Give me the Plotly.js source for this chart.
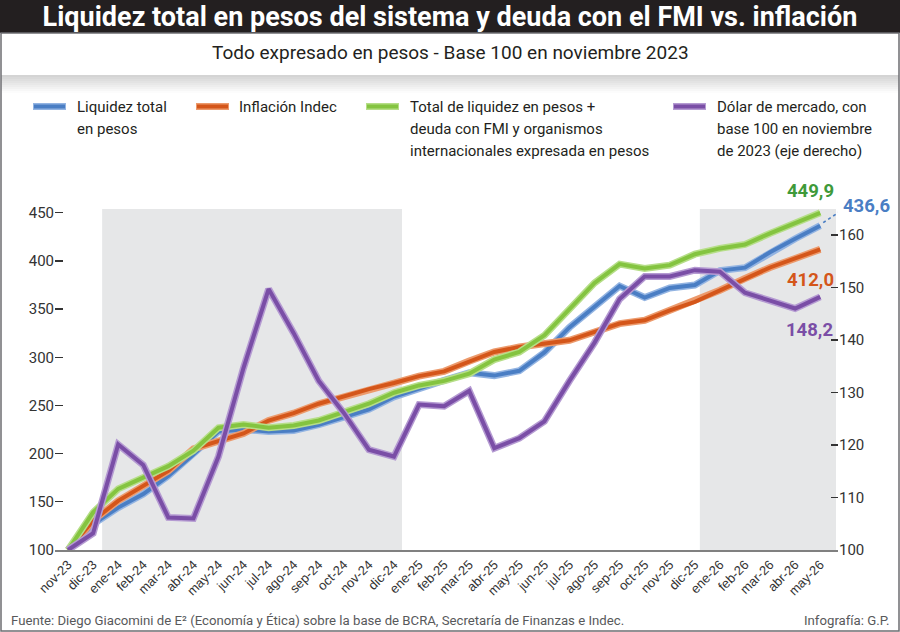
<!DOCTYPE html>
<html>
<head>
<meta charset="utf-8">
<script src="https://cdn.plot.ly/plotly-3.0.1.min.js"></script>
<style>
  html, body { margin: 0; padding: 0; background: #fff; }
  #chart { width: 900px; height: 632px; }
</style>
</head>
<body>
<div id="chart"></div>
<script>
// Months, Nov-2023 to May-2026
const months = ['nov-23','dic-23','ene-24','feb-24','mar-24','abr-24','may-24','jun-24','jul-24','ago-24','sep-24','oct-24','nov-24','dic-24',
  'ene-25','feb-25','mar-25','abr-25','may-25','jun-25','jul-25','ago-25','sep-25','oct-25','nov-25','dic-25',
  'ene-26','feb-26','mar-26','abr-26','may-26'];

// Liquidez total en pesos (base 100 = nov-23)
const liquidez = [100, 127, 144, 158, 177, 199, 223, 225, 223, 224, 230, 238, 246, 259, 268, 276, 284, 281, 286, 305,
  331, 352, 374, 362, 372, 375, 390, 393, 409, 423, 436.6];

// Inflación Indec (base 100 = nov-23)
const inflacion = [100, 130.5, 151, 167, 182, 205, 213, 221, 234.4, 242, 251.8, 259.5, 267, 273.3, 280.5, 285.4, 296, 305.5, 310.7, 314.2,
  317.6, 326.3, 335, 338.4, 348.8, 357.5, 369.6, 381.8, 393.2, 402.6, 412.0];

// Liquidez en pesos + deuda con FMI y organismos internacionales
const liquidezDeuda = [100, 139, 163.4, 175, 187, 203, 226.9, 230.3, 226.9, 229.2, 234.4, 243.1, 251.8, 263.2, 270.8, 275.5, 283, 297.6, 305.5, 322.8,
  350.6, 377.2, 396.7, 392.2, 395.6, 407, 413, 417.1, 428.6, 439, 449.9];

// Dólar de mercado (eje derecho, base 100 = nov-23)
const dolar = [100, 103.2, 120.1, 116.2, 106.2, 106.0, 117.8, 134.7, 149.7, 141.3, 132.2, 126.1, 119.1, 117.8, 127.7, 127.4, 130.3, 119.4, 121.3, 124.5,
  132.2, 139.5, 147.8, 152.1, 152.1, 153.3, 153.0, 149.0, 147.5, 146.0, 148.2];

// Shaded periods (category index positions)
const shadeStart = [1.36, 25.2];
const shadeEnd = [13.32, 30.63];

const leftTicks = [100, 150, 200, 250, 300, 350, 400, 450];
const rightTicks = [100, 110, 120, 130, 140, 150, 160];

const NARROW = 'Roboto, "Liberation Sans", sans-serif';
const SANS = '"Liberation Sans", Arial, sans-serif';
const INK = '#231f20';

const W = 900, H = 632;
const M = { l: 55, r: 62, t: 209, b: 82 };
const PW = W - M.l - M.r, PH = H - M.t - M.b;
const fx = x => (x - M.l) / PW;          // page pixel -> paper x
const fy = y => (H - M.b - y) / PH;      // page pixel -> paper y

const series = [
  { name: 'Liquidez total<br>en pesos', y: liquidez, core: '#4a7ec4', edge: '#93b4e2', axis: 'y' },
  { name: 'Inflación Indec', y: inflacion, core: '#d4561a', edge: '#ec9a6c', axis: 'y' },
  { name: 'Total de liquidez en pesos +<br>deuda con FMI y organismos<br>internacionales expresada en pesos', y: liquidezDeuda, core: '#84c440', edge: '#b6de88', axis: 'y' },
  { name: 'Dólar de mercado, con<br>base 100 en noviembre<br>de 2023 (eje derecho)', y: dolar, core: '#7a4ea6', edge: '#b59bd2', axis: 'y2' }
];

const traces = [];
series.forEach(s => {
  traces.push({ x: months, y: s.y, yaxis: s.axis, type: 'scatter', mode: 'lines',
    line: { color: s.edge, width: 7 }, hoverinfo: 'skip', showlegend: false });
  traces.push({ x: months, y: s.y, yaxis: s.axis, type: 'scatter', mode: 'lines',
    line: { color: s.core, width: 4 }, name: s.name, showlegend: false });
});

const shapes = [];
// title bar
shapes.push({ type: 'rect', xref: 'paper', yref: 'paper', x0: fx(0), x1: fx(W), y0: fy(0), y1: fy(33),
  fillcolor: INK, line: { width: 0 }, layer: 'below' });
// soft shadow under the subtitle band
for (let i = 0; i < 9; i++) {
  const g = Math.round(212 + i * 5);
  shapes.push({ type: 'rect', xref: 'paper', yref: 'paper', x0: fx(1), x1: fx(899), y0: fy(75 + i * 2), y1: fy(77 + i * 2),
    fillcolor: `rgb(${g},${g},${g})`, line: { width: 0 }, layer: 'below' });
}
// outer frame
shapes.push({ type: 'rect', xref: 'paper', yref: 'paper', x0: fx(1), x1: fx(899), y0: fy(33), y1: fy(631),
  fillcolor: 'rgba(0,0,0,0)', line: { color: '#6d6e71', width: 1.5 }, layer: 'below' });
// shaded periods
shadeStart.forEach((s, i) => {
  shapes.push({ type: 'rect', xref: 'x', yref: 'paper', x0: s, x1: shadeEnd[i], y0: 0, y1: 1,
    fillcolor: '#e6e7e8', line: { width: 0 }, layer: 'below' });
});
// dotted connector to the blue end label
shapes.push({ type: 'line', xref: 'x', yref: 'y', xsizemode: 'pixel', ysizemode: 'pixel',
  xanchor: months.length - 1, yanchor: liquidez[liquidez.length - 1], x0: 3, x1: 21, y0: 3, y1: 15,
  line: { color: '#4a7ec4', width: 1.6, dash: 'dot' } });

const annotations = [];
annotations.push({ text: 'Todo expresado en pesos - Base 100 en noviembre 2023', xref: 'paper', yref: 'paper',
  x: fx(450), y: fy(52), xanchor: 'center', yanchor: 'middle', showarrow: false,
  font: { family: NARROW, size: 19, color: INK } });

// legend: swatches + text lines
const legendPos = [
  { sx: 33, tx: 75 }, { sx: 196, tx: 237 }, { sx: 366, tx: 408 }, { sx: 673, tx: 715 }
];
series.forEach((s, i) => {
  const p = legendPos[i];
  const yl = 106.5;
  shapes.push({ type: 'line', xref: 'paper', yref: 'paper', x0: fx(p.sx), x1: fx(p.sx + 33), y0: fy(yl), y1: fy(yl),
    line: { color: s.edge, width: 7 } });
  shapes.push({ type: 'line', xref: 'paper', yref: 'paper', x0: fx(p.sx + 1), x1: fx(p.sx + 32), y0: fy(yl), y1: fy(yl),
    line: { color: s.core, width: 4 } });
  s.name.split('<br>').forEach((line, k) => {
    annotations.push({ text: line, xref: 'paper', yref: 'paper', x: fx(p.tx), y: fy(yl + k * 22.5),
      xanchor: 'left', yanchor: 'middle', showarrow: false, font: { family: NARROW, size: 15, color: INK } });
  });
});

// end-value labels
const fmt = v => v.toFixed(1).replace('.', ',');
const last = months.length - 1;
const endLabels = [
  { v: liquidezDeuda[last], yref: 'y', color: '#3f9a3a', anchor: 'right', dx: 16, dy: 22 },
  { v: liquidez[last], yref: 'y', color: '#4a7ec4', anchor: 'left', dx: 21, dy: 20 },
  { v: inflacion[last], yref: 'y', color: '#d4561a', anchor: 'right', dx: 16, dy: -31 },
  { v: dolar[last], yref: 'y2', color: '#7a4ea6', anchor: 'right', dx: 15, dy: -33 }
];
endLabels.forEach(e => {
  annotations.push({ text: fmt(e.v), x: months[last], y: e.v, xref: 'x', yref: e.yref,
    xshift: e.dx, yshift: e.dy, showarrow: false, xanchor: e.anchor, yanchor: 'middle',
    font: { family: NARROW, size: 18.5, color: e.color, weight: 700 } });
});

// footer
annotations.push({ text: 'Fuente: Diego Giacomini de E² (Economía y Ética) sobre la base de BCRA, Secretaría de Finanzas e Indec.',
  xref: 'paper', yref: 'paper', x: fx(9), y: fy(620), xanchor: 'left', yanchor: 'middle', showarrow: false,
  font: { family: NARROW, size: 13.2, color: '#58595b' } });
annotations.push({ text: 'Infografía: G.P.', xref: 'paper', yref: 'paper', x: fx(891), y: fy(620),
  xanchor: 'right', yanchor: 'middle', showarrow: false, font: { family: NARROW, size: 13.2, color: '#58595b' } });

const layout = {
  width: W, height: H,
  margin: M,
  paper_bgcolor: '#ffffff', plot_bgcolor: 'rgba(0,0,0,0)',
  showlegend: false,
  title: { text: 'Liquidez total en pesos del sistema y deuda con el FMI vs. inflación',
    font: { family: NARROW, size: 27, color: '#ffffff', weight: 700 },
    x: 0.5, xanchor: 'center', y: 1 - 17 / H, yanchor: 'middle', yref: 'container' },
  xaxis: {
    type: 'category', range: [-0.52, 30.71], showgrid: false, zeroline: false,
    showline: true, linecolor: '#808080', linewidth: 2, ticks: '',
    tickangle: -45, tickfont: { family: SANS, size: 13, color: '#333' }, fixedrange: true
  },
  yaxis: {
    range: [100, 453.9], tickvals: leftTicks, showgrid: false, zeroline: false, showline: false,
    ticks: 'inside', ticklen: 8, tickwidth: 1.3, tickcolor: '#333',
    tickfont: { family: NARROW, size: 15, color: '#333' }, fixedrange: true
  },
  yaxis2: {
    overlaying: 'y', side: 'right', range: [100, 164.95], tickvals: rightTicks,
    showgrid: false, zeroline: false, showline: false,
    ticks: 'inside', ticklen: 7, tickwidth: 1.3, tickcolor: '#333',
    tickfont: { family: NARROW, size: 15, color: '#333' }, fixedrange: true
  },
  shapes: shapes,
  annotations: annotations
};

Plotly.newPlot('chart', traces, layout, { displayModeBar: false, staticPlot: true });
</script>
</body>
</html>
